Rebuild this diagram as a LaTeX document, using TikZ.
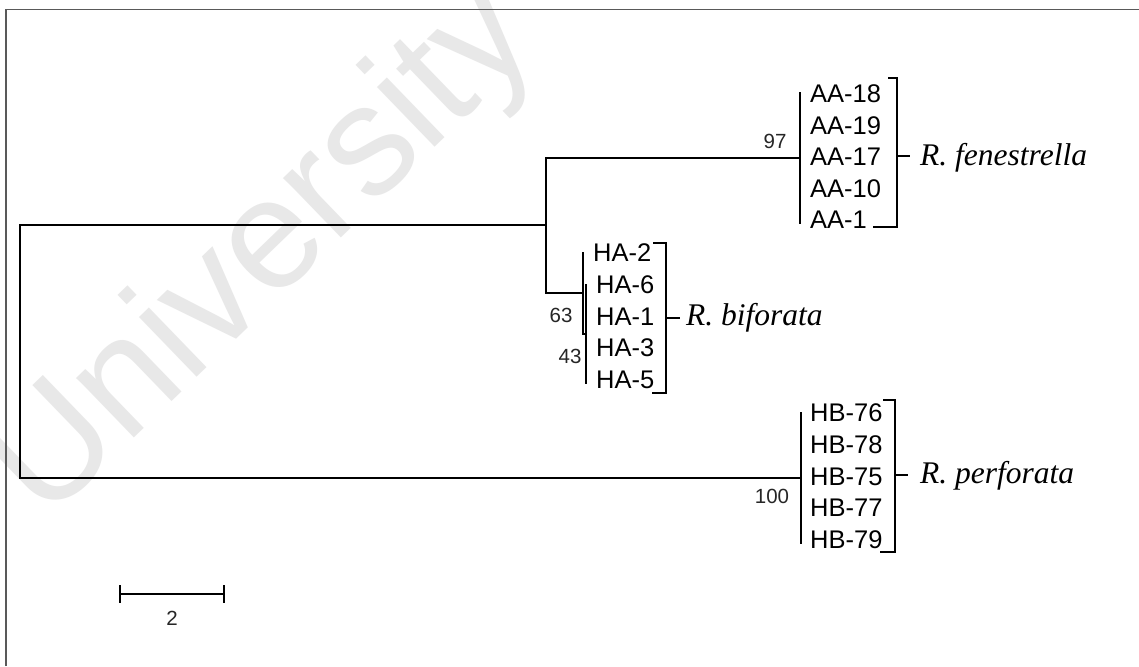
\documentclass[tikz,border=0pt]{standalone}
\usepackage{fontspec}
\setmainfont{Liberation Serif}
\setsansfont{Liberation Sans}
\begin{document}
\begin{tikzpicture}[x=1pt,y=-1pt,
  branch/.style={line width=1.8pt, line cap=rect},
  brack/.style={line width=1.6pt},
  leaf/.style={anchor=west, inner sep=0pt, font=\sffamily\fontsize{25.5}{25.5}\selectfont},
  boot/.style={inner sep=0pt, font=\sffamily\fontsize{20.5}{20.5}\selectfont, text=black!85},
  species/.style={anchor=base west, inner sep=0pt, font=\itshape\fontsize{31.5}{31.5}\selectfont}]
\useasboundingbox (0,0) rectangle (1139,666);
\fill[white] (0,0) rectangle (1139,666);

% watermark
\node[rotate=44, anchor=base west, inner sep=0pt, text=black!9,
      font=\sffamily\fontsize{157}{157}\selectfont] (wm) at (45,524) {University};

% frame
\draw[line width=1.2pt, black!65] (6,666) -- (6,9.5) -- (1139,9.5);

% branch points
\coordinate (rtop) at (20,225);
\coordinate (rbot) at (20,478);
\coordinate (nA) at (546,225);
\coordinate (nAt) at (546,158);
\coordinate (nAb) at (546,293);
\coordinate (nF) at (800,158);
\coordinate (nFt) at (800,93);
\coordinate (nFb) at (800,223);
\coordinate (nB) at (583,293);
\coordinate (nBt) at (583,253);
\coordinate (nBb) at (583,334);
\coordinate (nC) at (586,334);
\coordinate (nCt) at (586,285);
\coordinate (nCb) at (586,383);
\coordinate (nP) at (801,478);
\coordinate (nPt) at (801,413);
\coordinate (nPb) at (801,543);

% tree
\draw[branch] (nA) -- (rtop) -- (rbot) -- (nP);
\draw[branch] (nF) -- (nAt) -- (nAb) -- (nB);
\draw[branch] (nFt) -- (nFb);
\draw[branch] (nBt) -- (nBb) -- (nC);
\draw[branch] (nCt) -- (nCb);
\draw[branch] (nPt) -- (nPb);

% leaves
\node[leaf] (aa18) at (810,94) {AA-18};
\node[leaf] (aa19) at (810,125.5) {AA-19};
\node[leaf] (aa17) at (810,157) {AA-17};
\node[leaf] (aa10) at (810,188.5) {AA-10};
\node[leaf] (aa1)  at (810,220) {AA-1};

\node[leaf] (ha2) at (593,253) {HA-2};
\node[leaf] (ha6) at (596,285) {HA-6};
\node[leaf] (ha1) at (596,316.5) {HA-1};
\node[leaf] (ha3) at (596,348) {HA-3};
\node[leaf] (ha5) at (596,380) {HA-5};

\node[leaf] (hb76) at (810,413) {HB-76};
\node[leaf] (hb78) at (810,445) {HB-78};
\node[leaf] (hb75) at (810,477) {HB-75};
\node[leaf] (hb77) at (810,508) {HB-77};
\node[leaf] (hb79) at (810,539.5) {HB-79};

% bootstrap values
\node[boot] (b97)  at (775,141) {97};
\node[boot] (b63)  at (561,315) {63};
\node[boot] (b43)  at (570,356) {43};
\node[boot] (b100) at (772,496) {100};

% species brackets
\coordinate (fT0) at (888,78);  \coordinate (fT) at (897,78);
\coordinate (fB0) at (873,227); \coordinate (fB) at (897,227);
\coordinate (fM) at (897,156);  \coordinate (fM1) at (910,156);
\draw[brack] (fT0) -- (fT) -- (fB) -- (fB0);
\draw[brack] (fM) -- (fM1);
\node[species] (fen) at (920,165) {R. fenestrella};

\coordinate (bT0) at (653,243); \coordinate (bT) at (666,243);
\coordinate (bB0) at (652,393); \coordinate (bB) at (666,393);
\coordinate (bM) at (666,318);  \coordinate (bM1) at (680,318);
\draw[brack] (bT0) -- (bT) -- (bB) -- (bB0);
\draw[brack] (bM) -- (bM1);
\node[species] (bif) at (686,325) {R. biforata};

\coordinate (pT0) at (883,400); \coordinate (pT) at (895,400);
\coordinate (pB0) at (880,552); \coordinate (pB) at (895,552);
\coordinate (pM) at (895,475);  \coordinate (pM1) at (908,475);
\draw[brack] (pT0) -- (pT) -- (pB) -- (pB0);
\draw[brack] (pM) -- (pM1);
\node[species] (per) at (920,483) {R. perforata};

% scale bar
\coordinate (s0) at (120,594);
\coordinate (s1) at (224,594);
\coordinate (s0t) at (120,585); \coordinate (s0b) at (120,603);
\coordinate (s1t) at (224,585); \coordinate (s1b) at (224,603);
\draw[branch, line cap=butt] (s0) -- (s1);
\draw[branch, line cap=butt] (s0t) -- (s0b);
\draw[branch, line cap=butt] (s1t) -- (s1b);
\node[boot] (sl) at (172,618) {2};
\end{tikzpicture}
\end{document}
